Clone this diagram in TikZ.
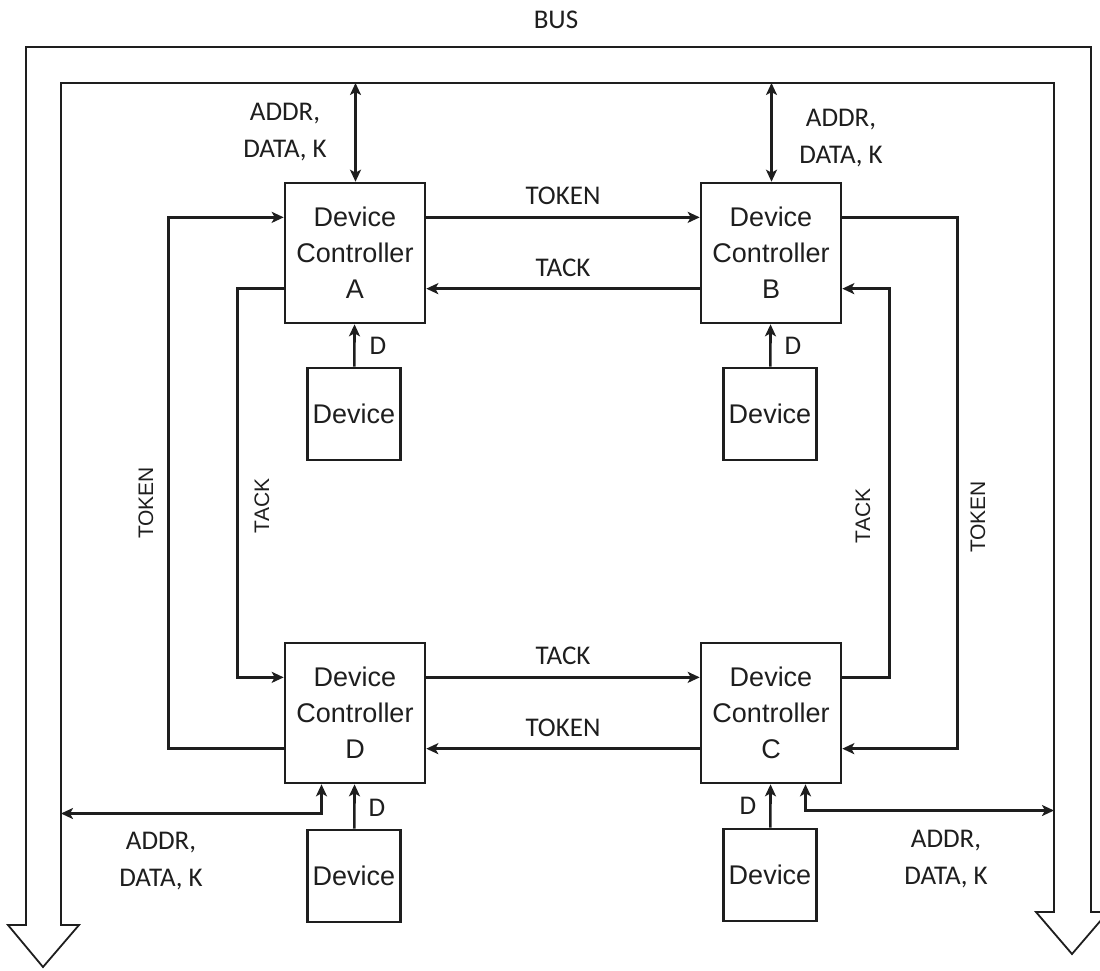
\documentclass[tikz,border=0pt]{standalone}
\usepackage{fontspec}
\setmainfont{Liberation Sans}
\newfontfamily\calfont{Carlito}
\usetikzlibrary{arrows.meta,calc}
\definecolor{ink}{RGB}{30,30,30}
\begin{document}
\begin{tikzpicture}[x=1pt,y=-1pt,
  >={Stealth[length=12pt,width=11pt,inset=3pt]},
  ctrl/.style={draw=ink, line width=2.6pt, minimum width=140pt, minimum height=140pt, inner sep=0pt, align=center, text=ink, font=\fontsize{27}{36}\selectfont},
  dev/.style={draw=ink, line width=2.6pt, minimum width=93pt, minimum height=92pt, inner sep=0pt, text=ink, font=\fontsize{27}{32}\selectfont},
  conn/.style={draw=ink, line width=2.6pt, ->},
  bidir/.style={draw=ink, line width=3.4pt, <->},
  lbl/.style={font=\calfont\fontsize{27}{37}\selectfont, text=ink, align=center, inner sep=0pt},
  vlbl/.style={font=\fontsize{21}{24}\selectfont, rotate=90, text=ink, inner sep=0pt},
  busline/.style={draw=ink, line width=1.8pt}]
\useasboundingbox (0,0) rectangle (1100,970);

% bus
\draw[busline] (26,925) -- (26,47) -- (1091,47) -- (1091,912) -- (1108,912) -- (1072,954) -- (1036,912) -- (1054,912) -- (1054,83) -- (61,83) -- (61,925) -- (79,925) -- (43,967) -- (8,925) -- cycle;
\node[lbl] (buslbl) at (556,20) {BUS};

% controllers
\node[ctrl] (A) at (355,253) {Device\\Controller\\A};
\node[ctrl] (B) at (771,253) {Device\\Controller\\B};
\node[ctrl] (D) at (355,713) {Device\\Controller\\D};
\node[ctrl] (C) at (771,713) {Device\\Controller\\C};

% devices
\node[dev] (dA) at (354,414) {Device};
\node[dev] (dB) at (770,414) {Device};
\node[dev] (dD) at (354,876) {Device};
\node[dev] (dC) at (770,875) {Device};

% border points
\coordinate (aE1) at ($(A.north east)!0.25!(A.south east)$);
\coordinate (aE3) at ($(A.north east)!0.75!(A.south east)$);
\coordinate (aW1) at ($(A.north west)!0.25!(A.south west)$);
\coordinate (aW3) at ($(A.north west)!0.75!(A.south west)$);
\coordinate (bE1) at ($(B.north east)!0.25!(B.south east)$);
\coordinate (bE3) at ($(B.north east)!0.75!(B.south east)$);
\coordinate (bW1) at ($(B.north west)!0.25!(B.south west)$);
\coordinate (bW3) at ($(B.north west)!0.75!(B.south west)$);
\coordinate (dE1) at ($(D.north east)!0.25!(D.south east)$);
\coordinate (dE3) at ($(D.north east)!0.75!(D.south east)$);
\coordinate (dW1) at ($(D.north west)!0.25!(D.south west)$);
\coordinate (dW3) at ($(D.north west)!0.75!(D.south west)$);
\coordinate (cE1) at ($(C.north east)!0.25!(C.south east)$);
\coordinate (cE3) at ($(C.north east)!0.75!(C.south east)$);
\coordinate (cW1) at ($(C.north west)!0.25!(C.south west)$);
\coordinate (cW3) at ($(C.north west)!0.75!(C.south west)$);

% ring
\draw[conn] (aE1) -- node[lbl, pos=0.5, above=11pt] (l1) {TOKEN} (bW1);
\draw[conn] (bW3) -- node[lbl, pos=0.5, above=11pt] (l2) {TACK} (aE3);
\draw[conn] (dE1) -- node[lbl, pos=0.5, above=11pt] (l3) {TACK} (cW1);
\draw[conn] (cW3) -- node[lbl, pos=0.5, above=11pt] (l4) {TOKEN} (dE3);
\draw[conn] (aW3) -- ++(-46,0) |- (dW1);
\draw[conn] (dW3) -- ++(-115,0) |- (aW1);
\draw[conn] (bE1) -- ++(115,0) |- (cE3);
\draw[conn] (cE1) -- ++(47,0) |- (bE3);
\node[vlbl] (l5) at (146,503) {TOKEN};
\node[vlbl] (l6) at (262,506) {TACK};
\node[vlbl] (l7) at (863,516) {TACK};
\node[vlbl] (l8) at (978,517) {TOKEN};

% device links
\draw[conn] (dA) -- (A);
\draw[conn] (dB) -- (B);
\draw[conn] (dD) -- (D);
\draw[conn] (dC) -- (C);
\node[lbl] (dl1) at (378,346) {D};
\node[lbl] (dl2) at (793,346) {D};
\node[lbl] (dl3) at (377,808) {D};
\node[lbl] (dl4) at (748,806) {D};

% bus links
\coordinate (busA) at (355.5,83);
\coordinate (busB) at (771.5,83);
\coordinate (busD) at (61,813.5);
\coordinate (busC) at (1054,810.5);
\draw[bidir] (busA) -- (A.north -| busA);
\draw[bidir] (busB) -- (B.north -| busB);
\draw[bidir] (busD) -| ([xshift=-33.5pt]D.south);
\draw[bidir] ([xshift=34.5pt]C.south) |- (busC);
\node[lbl] (al) at (285,132) {ADDR,\\DATA, K};
\node[lbl] (bl) at (841,138) {ADDR,\\DATA, K};
\node[lbl] (dlb) at (161,861) {ADDR,\\DATA, K};
\node[lbl] (clb) at (946,859) {ADDR,\\DATA, K};
\end{tikzpicture}
\end{document}
